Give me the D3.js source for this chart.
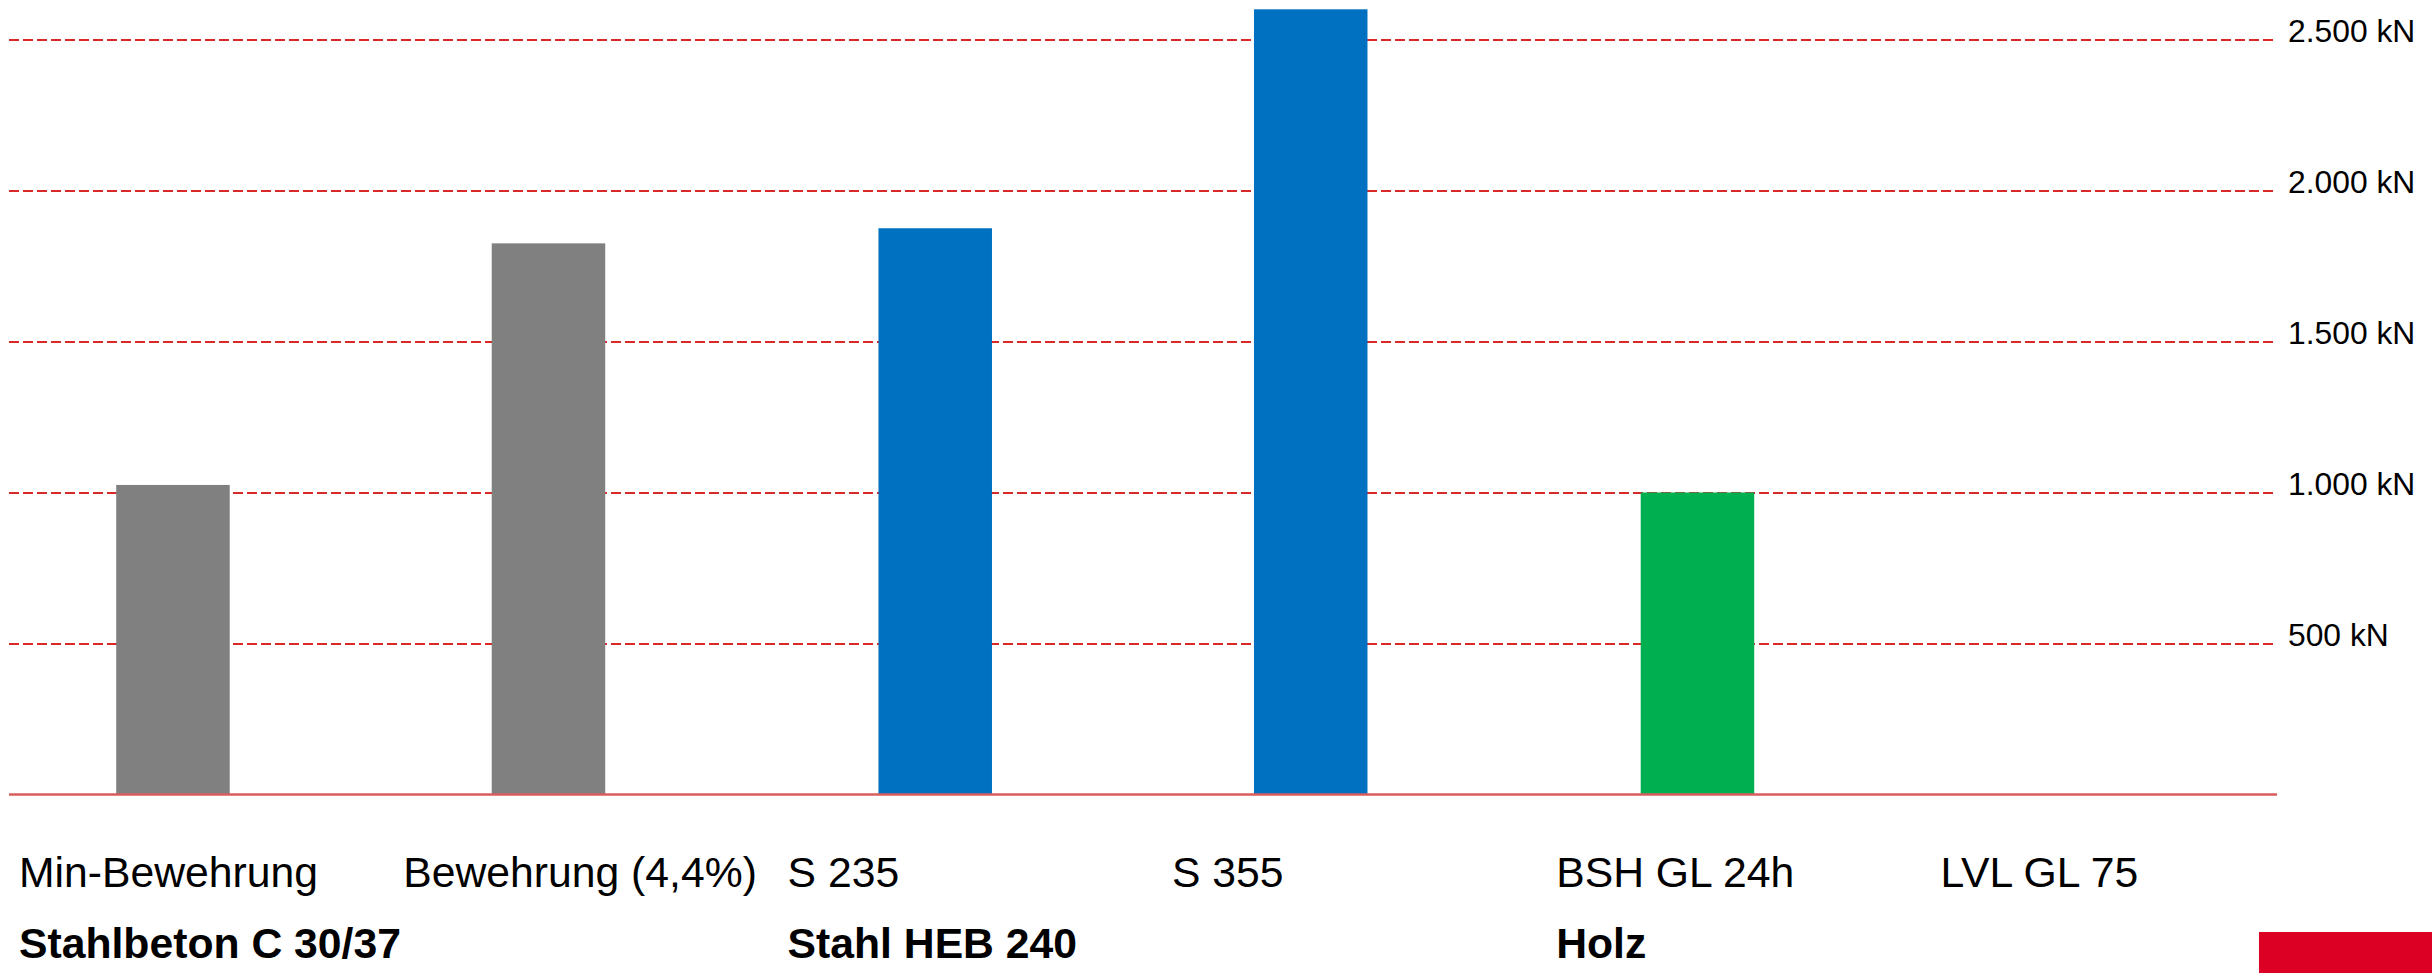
<!DOCTYPE html>
<html>
<head>
<meta charset="utf-8">
<script src="https://cdn.jsdelivr.net/npm/d3@7"></script>
<style>
	body{margin:0;background:#fff;}
	.CategoryLabels{font-family:"Liberation Sans",Arial,sans-serif;font-size:42.7px;fill:#000;}
	.GroupLabels{font-family:"Liberation Sans",Arial,sans-serif;font-size:42.7px;font-weight:bold;fill:#000;}
	.yAxis text{font-family:"Liberation Sans",Arial,sans-serif;font-size:31.8px;fill:#000;}
</style>
</head>
<body>
<div id="idChart"></div>
<script>
var asCategories=["Min-Bewehrung","Bewehrung (4,4%)","S 235","S 355","BSH GL 24h","LVL GL 75"];
var asCategoryGroups=["Stahlbeton C 30/37","Stahlbeton C 30/37","Stahl HEB 240","Stahl HEB 240","Holz","Holz"];
var aiValues=[1025,1825,1875,2600,1000,null];
var asGroups=["Stahlbeton C 30/37","Stahl HEB 240","Holz"];
var asGroupColors=["#808080","#0070C0","#00B050"];
var aiTickValues=[500,1000,1500,2000,2500];

function DrawCapacity()
{
	var iWidth=2432;
	var iHeight=973;
	var sContentLoc="#idChart";

	var iBaseY=794.5;
	var iTopY=39.5;
	var iGridLeft=9;
	var iGridRight=2277;

	var myCanvas=d3.select(sContentLoc).append("svg")
		.attr("width",iWidth)
		.attr("height",iHeight);

	var myData=asCategories.map(function(sName,i){
		return {sName:sName,sGroup:asCategoryGroups[i],iSlot:asCategoryGroups.slice(0,i).filter(function(s){return s==asCategoryGroups[i];}).length,iValue:aiValues[i]};
	});

	// group axis, then two slots inside each group
	var xGroups=d3.scaleBand().domain(asGroups).range([-20.4,2266.35]);
	var xSlots=d3.scaleBand().domain([0,1]).range([0,xGroups.bandwidth()]).paddingInner(0.6977).paddingOuter(0.3638);
	// labels do not sit on the bars, they run on their own step
	var xLabels=d3.scaleBand().domain(asCategories).range([19,19+6*384.3]);
	var yAxes=d3.scaleLinear().domain([0,2500]).range([iBaseY,iTopY]);
	var cColor=d3.scaleOrdinal().domain(asGroups).range(asGroupColors);

	var myLocale=d3.formatLocale({decimal:",",thousands:".",grouping:[3],currency:["","€"]});
	var fmt=myLocale.format(",d");

	var myYAxis=myCanvas.append("g")
		.attr("class","yAxis")
		.attr("transform","translate("+iGridLeft+",0)")
		.call(d3.axisRight(yAxes)
			.tickValues(aiTickValues)
			.tickSize(iGridRight-iGridLeft)
			.tickPadding(11)
			.tickFormat(function(iValue){return fmt(iValue)+" kN";}));
	myYAxis.select(".domain").remove();
	myYAxis.selectAll(".tick line")
		.attr("stroke","#D92828")
		.attr("stroke-width",1.8)
		.attr("stroke-dasharray","10,4");
	myYAxis.selectAll(".tick text")
		.attr("dy","0.05em");

	myCanvas.selectAll(".Bars")
		.data(myData.filter(function(myNode){return myNode.iValue!=null;}))
		.enter().append("rect")
			.attr("class","Bars")
			.attr("x",function(myNode){return xGroups(myNode.sGroup)+xSlots(myNode.iSlot);})
			.attr("width",xSlots.bandwidth())
			.attr("y",function(myNode){return yAxes(myNode.iValue);})
			.attr("height",function(myNode){return yAxes(0)-yAxes(myNode.iValue);})
			.attr("fill",function(myNode){return cColor(myNode.sGroup);});

	myCanvas.append("line")
		.attr("x1",iGridLeft)
		.attr("x2",iGridRight)
		.attr("y1",yAxes(0))
		.attr("y2",yAxes(0))
		.attr("stroke","#D85C5C")
		.attr("stroke-width",2.5);

	myCanvas.selectAll(".CategoryLabels")
		.data(myData)
		.enter().append("text")
			.attr("class","CategoryLabels")
			.attr("x",function(myNode){return xLabels(myNode.sName);})
			.attr("y",887)
			.text(function(myNode){return myNode.sName;});

	myCanvas.selectAll(".GroupLabels")
		.data(asGroups)
		.enter().append("text")
			.attr("class","GroupLabels")
			.attr("x",function(sGroup){return xLabels(asCategories[asCategoryGroups.indexOf(sGroup)]);})
			.attr("y",958)
			.text(function(sGroup){return sGroup;});

	// red corner mark
	myCanvas.append("rect")
		.attr("x",2259)
		.attr("y",932)
		.attr("width",iWidth-2259)
		.attr("height",iHeight-932)
		.attr("fill","#DC0025");
}

DrawCapacity();
</script>
</body>
</html>
